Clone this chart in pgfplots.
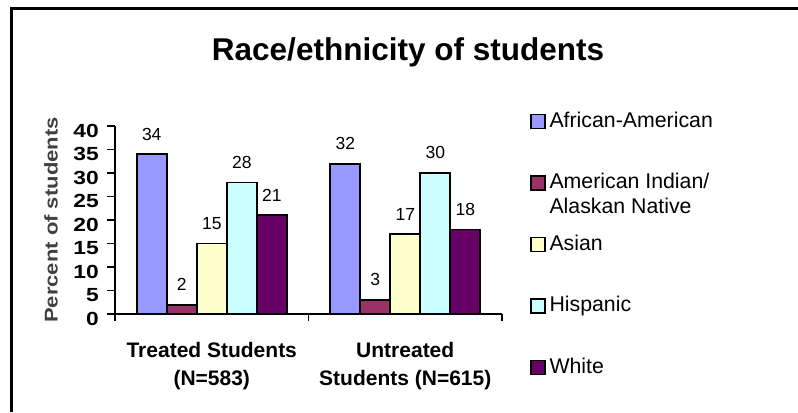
\documentclass[border=0pt]{standalone}
\usepackage{pgfplots}
\pgfplotsset{compat=1.18}
\usepackage{fontspec}
\setmainfont{Liberation Sans}

\definecolor{afam}{HTML}{9999FF}
\definecolor{amind}{HTML}{993366}
\definecolor{asian}{HTML}{FFFFCC}
\definecolor{hisp}{HTML}{CCFFFF}
\definecolor{white}{HTML}{660066}

\pgfplotsset{
  sqlegend/.style={legend image code/.code={%
    \draw[##1,line width=1.5bp] (0bp,-1bp) rectangle (14bp,13bp);}},
}

\begin{document}
\begin{tikzpicture}[x=1bp,y=1bp]
\useasboundingbox (0,0) rectangle (798,412);
\draw[line width=2.5bp] (11.3,0) -- (11.3,403.5) -- (798,403.5);
\node[font=\fontsize{31.5bp}{36bp}\selectfont\bfseries] at (408,360) {Race/ethnicity of students};
\begin{axis}[
  at={(115bp,98bp)}, anchor=south west,
  scale only axis, width=387bp, height=188bp,
  xmin=-0.5, xmax=1.5, ymin=0, ymax=40,
  clip=false,
  axis x line=bottom, axis y line=left,
  axis line style={-, line width=1.8bp},
  tick style={line width=1.8bp, black},
  tick align=outside, major tick length=8bp,
  ybar=0pt, bar width=30bp,
  ytick={0,5,...,40},
  yticklabel={\scalebox{1.2}[1]{\pgfmathprintnumber[assume math mode=true]{\tick}}},
  yticklabel style={font=\fontsize{19bp}{21bp}\selectfont\bfseries, anchor=east, inner sep=0pt, yshift=-4.5bp, xshift=-8bp},
  xtick={0,1},
  xticklabels={{Treated Students\\(N=583)},{Untreated\\Students (N=615)}},
  xtick style={draw=none},
  xticklabel style={font=\fontsize{21bp}{28bp}\selectfont\bfseries, align=center, anchor=north, inner sep=0pt, yshift=-20bp},
  extra x ticks={-0.5,0.5,1.5},
  extra x tick labels={},
  extra x tick style={xtick style={draw=black}, major tick length=7bp},
  ylabel={\scalebox{1.19}[1]{Percent of students}},
  ylabel style={at={(axis description cs:-0.1654,0.5)}, anchor=center, font=\fontsize{18.5bp}{20bp}\selectfont\bfseries, text=black!75},
  nodes near coords={\pgfmathprintnumber[assume math mode=true]{\pgfplotspointmeta}},
  every node near coord/.append style={font=\fontsize{17.5bp}{20bp}\selectfont, inner sep=0pt, anchor=south, yshift=13bp, text=black},
  legend style={at={(axis description cs:1.0724,1.0824)}, anchor=north west, draw=none, fill=none,
    inner sep=0pt, outer sep=0pt, row sep=41bp, column sep=2bp,
    font=\fontsize{21.3bp}{25bp}\selectfont,
    cells={anchor=base west, inner sep=0pt, text height=15bp, text depth=4bp}},
]
\addplot[sqlegend, draw=black, line width=1.8bp, fill=afam] coordinates {(0,34) (1,32)};
\addlegendentry{African-American}
\addplot[sqlegend, draw=black, line width=1.8bp, fill=amind] coordinates {(0,2) (1,3)};
\addlegendentry{\begin{tabular}[t]{@{}l@{}}American Indian/\\Alaskan Native\end{tabular}}
\addplot[sqlegend, draw=black, line width=1.8bp, fill=asian] coordinates {(0,15) (1,17)};
\addlegendentry{Asian}
\addplot[sqlegend, draw=black, line width=1.8bp, fill=hisp] coordinates {(0,28) (1,30)};
\addlegendentry{Hispanic}
\addplot[sqlegend, draw=black, line width=1.8bp, fill=white] coordinates {(0,21) (1,18)};
\addlegendentry{White}
\end{axis}
\end{tikzpicture}
\end{document}
